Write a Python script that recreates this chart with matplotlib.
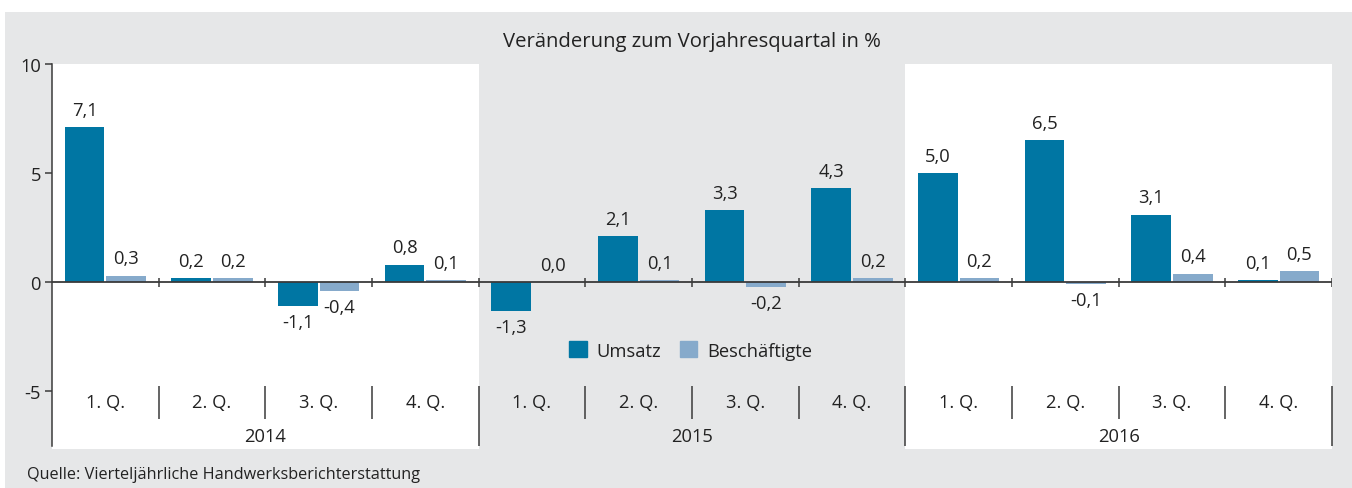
import matplotlib.pyplot as plt
from matplotlib.patches import Rectangle, Patch

plt.rcParams['font.family'] = ['Open Sans', 'DejaVu Sans']

years = ['2014', '2015', '2016']
quarters = ['1. Q.', '2. Q.', '3. Q.', '4. Q.']
umsatz = [7.1, 0.2, -1.1, 0.8, -1.3, 2.1, 3.3, 4.3, 5.0, 6.5, 3.1, 0.1]
beschaeftigte = [0.3, 0.2, -0.4, 0.1, 0.0, 0.1, -0.2, 0.2, 0.2, -0.1, 0.4, 0.5]

dark = '#0076a3'
light = '#86aacb'
grey = '#e6e7e8'
txt = '#222222'
line = '#3a3a3a'
fs = 13.2

fig = plt.figure(figsize=(13.52, 4.89), dpi=100)
fig.patches.append(Rectangle((5 / 1352, 0), 1, 1 - 13 / 489, transform=fig.transFigure,
                             facecolor=grey, edgecolor='none', zorder=-1))
ax = fig.add_axes([52 / 1352, 1 - 447 / 489, 1280 / 1352, (447 - 65) / 489])
ax.set_facecolor('none')

n = len(umsatz)
ax.set_xlim(0, n)
ax.set_ylim(-7.5, 10)

# white panels for 2014 and 2016
for start in (0, 8):
    ax.add_patch(Rectangle((start, -7.64), 4, 17.64, facecolor='white', edgecolor='none',
                           clip_on=False, zorder=0))

w = 0.37
xs = [i + 0.5 for i in range(n)]
ax.bar([x - 0.195 for x in xs], umsatz, w, color=dark, zorder=2, label='Umsatz')
ax.bar([x + 0.195 for x in xs], beschaeftigte, w, color=light, zorder=2, label='Beschäftigte')


def fmt(v):
    return ('%.1f' % v).replace('.', ',')


for off, vals in ((-0.195, umsatz), (0.195, beschaeftigte)):
    for x, v in zip(xs, vals):
        if v >= 0:
            ax.annotate(fmt(v), (x + off, v), xytext=(0, 6), textcoords='offset points',
                        ha='center', va='bottom', fontsize=fs, color=txt)
        else:
            ax.annotate(fmt(v), (x + off, v), xytext=(0, -5), textcoords='offset points',
                        ha='center', va='top', fontsize=fs, color=txt)

# zero line with small ticks
ax.axhline(0, color=line, lw=1.3, zorder=3)
ax.vlines(range(1, n + 1), -0.2, 0.2, color=line, lw=1.1, zorder=3)

# category axis below
for i in range(1, n + 1):
    bottom = -7.5 if i % 4 == 0 else -6.28
    ax.vlines(i, -4.77, bottom, color=line, lw=1.1, clip_on=False)
for i, x in enumerate(xs):
    ax.text(x, -5.5, quarters[i % 4], ha='center', va='center', fontsize=fs, color=txt)
for j, y in enumerate(years):
    ax.text(j * 4 + 2, -7.05, y, ha='center', va='center', fontsize=fs, color=txt)

for s in ('top', 'right', 'bottom'):
    ax.spines[s].set_visible(False)
ax.spines['left'].set_color(line)
ax.spines['left'].set_linewidth(1.1)
ax.spines['left'].set_bounds(-7.5, 10)
ax.set_xticks([])
ax.set_yticks([-5, 0, 5, 10])
ax.set_yticklabels(['-5', '0', '5', '10'])
ax.tick_params(axis='y', length=5, width=1.1, color=line, labelsize=fs, labelcolor=txt, pad=3)

ax.set_title('Veränderung zum Vorjahresquartal in %', fontsize=14.6, color=txt, pad=13)

handles = [Patch(color=dark), Patch(color=light)]
ax.legend(handles, ['Umsatz', 'Beschäftigte'], loc='center', bbox_to_anchor=(0.499, 0.25),
          ncol=2, frameon=False, fontsize=fs, handlelength=0.95, handleheight=0.95,
          handletextpad=0.55, columnspacing=1.0, labelcolor=txt)

fig.text(27 / 1352, 1 - 475 / 489, 'Quelle: Vierteljährliche Handwerksberichterstattung',
         ha='left', va='center', fontsize=11.7, color=txt)

fig.savefig('out.png', dpi=100)
